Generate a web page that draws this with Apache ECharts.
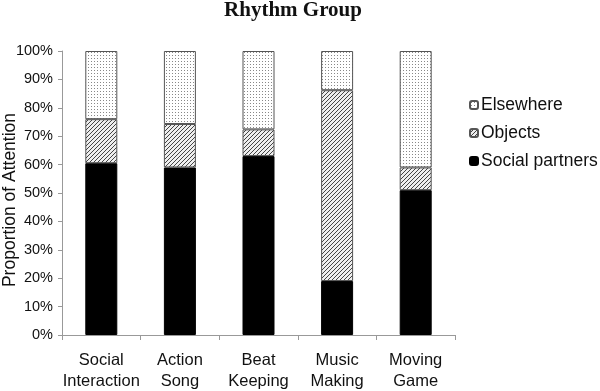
<!DOCTYPE html>
<html><head><meta charset="utf-8">
<script src="https://cdn.jsdelivr.net/npm/echarts@6/dist/echarts.min.js"></script>
<style>html,body{margin:0;padding:0;background:#fff}#c{width:600px;height:391px}</style>
</head><body><div id="c"></div>
<script>
var categories = ['Social\nInteraction', 'Action\nSong', 'Beat\nKeeping', 'Music\nMaking', 'Moving\nGame'];
var socialPartners = [60.5, 59, 63, 19, 51];
var objects = [15.5, 15.3, 9.4, 67.2, 8];
var elsewhere = [24, 25.7, 27.6, 13.8, 41];
var yTicks = [0, 10, 20, 30, 40, 50, 60, 70, 80, 90, 100];

function dotPattern() {
  var c = document.createElement('canvas'); c.width = 3; c.height = 3;
  var g = c.getContext('2d');
  g.fillStyle = '#fff'; g.fillRect(0, 0, 3, 3);
  g.fillStyle = '#888'; g.fillRect(1, 1, 1, 1);
  return c;
}
function hatchPattern() {
  var c = document.createElement('canvas'); c.width = 4; c.height = 4;
  var g = c.getContext('2d');
  g.fillStyle = '#eee'; g.fillRect(0, 0, 4, 4);
  g.strokeStyle = '#444'; g.lineWidth = 1;
  g.beginPath();
  g.moveTo(-1, 5); g.lineTo(5, -1);
  g.moveTo(-1, 1); g.lineTo(1, -1);
  g.moveTo(3, 5); g.lineTo(5, 3);
  g.stroke();
  return c;
}
var dots = {image: dotPattern(), repeat: 'repeat'};
var hatch = {image: hatchPattern(), repeat: 'repeat'};

var chart = echarts.init(document.getElementById('c'), null, {renderer: 'canvas'});
chart.setOption({
  animation: false,
  title: {
    text: 'Rhythm Group', left: 293, top: 0, padding: 0, textAlign: 'center',
    textStyle: {fontFamily: 'Liberation Serif', fontWeight: 'bold', fontSize: 21, color: '#111'}
  },
  legend: {
    orient: 'vertical', left: 464, top: 91, itemGap: 10,
    itemWidth: 8, itemHeight: 8,
    data: ['Elsewhere', 'Objects', 'Social partners'],
    textStyle: {fontFamily: 'Liberation Sans', fontSize: 17.5, color: '#111', padding: [0, 0, 0, -2]}
  },
  grid: {left: 62, right: 145, top: 51, bottom: 56, outerBoundsMode: 'none', containLabel: false},
  xAxis: {
    type: 'category', data: categories,
    axisLine: {lineStyle: {color: '#999'}},
    axisTick: {show: true, length: 5, lineStyle: {color: '#999'}},
    axisLabel: {fontFamily: 'Liberation Sans', fontSize: 16.5, color: '#111', lineHeight: 21, margin: 15, interval: 0}
  },
  yAxis: {
    type: 'value', min: 0, max: 100, interval: 10,
    name: 'Proportion of Attention', nameLocation: 'middle', nameGap: 43, nameMoveOverlap: false,
    nameTextStyle: {fontFamily: 'Liberation Sans', fontSize: 17.5, color: '#111', padding: [0, 14, 0, 0]},
    axisLine: {show: true, lineStyle: {color: '#999'}},
    axisTick: {show: true, length: 4, lineStyle: {color: '#999'}},
    splitLine: {show: false},
    axisLabel: {fontFamily: 'Liberation Sans', fontSize: 14.5, color: '#111', margin: 9,
      formatter: function (v) { return yTicks.indexOf(v) >= 0 ? v + '%' : ''; }}
  },
  series: [
    {name: 'Social partners', type: 'bar', stack: 's', barWidth: 32, data: socialPartners,
      itemStyle: {color: '#000', borderColor: '#000', borderWidth: 1}},
    {name: 'Objects', type: 'bar', stack: 's', barWidth: 32, data: objects,
      itemStyle: {color: hatch, borderColor: '#555', borderWidth: 1}},
    {name: 'Elsewhere', type: 'bar', stack: 's', barWidth: 32, data: elsewhere,
      itemStyle: {color: dots, borderColor: '#555', borderWidth: 1}}
  ]
});
</script></body></html>
